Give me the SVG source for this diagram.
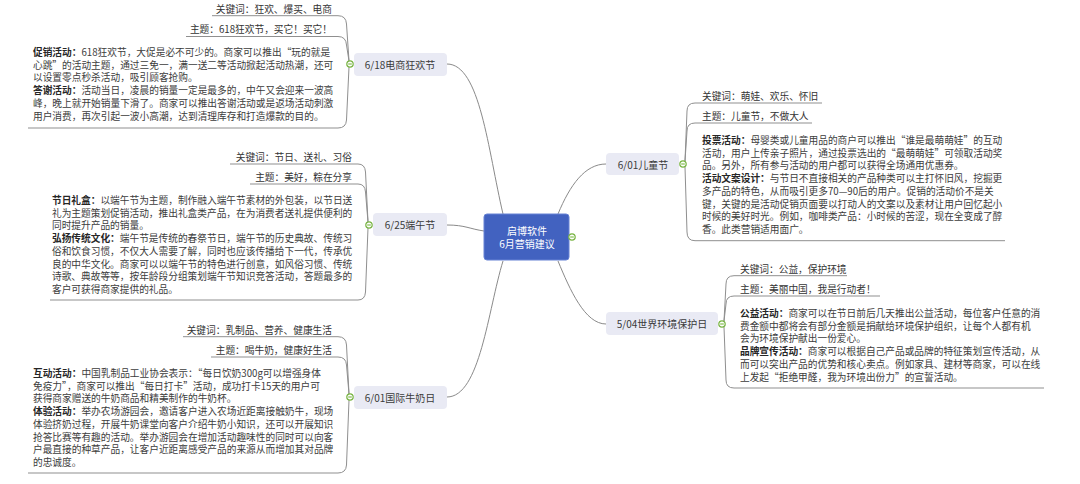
<svg xmlns="http://www.w3.org/2000/svg" width="1080" height="484" viewBox="0 0 1080 484">
<style>
text{font-family:"Noto Sans CJK SC","Noto Sans",sans-serif;dominant-baseline:central}
.t{font-size:9.7px;fill:#3c3c3c}
.b{font-weight:bold;fill:#262626}
.k{font-size:9.7px;fill:#333}
.end{text-anchor:end}
.lbl{font-size:10px;fill:#3a3a3a;text-anchor:middle}
.box{fill:#e9eaf4}
.ln{fill:none;stroke:#8f8f8f;stroke-width:1}
.cn{fill:none;stroke:#8a8a8a;stroke-width:1}
.tg{fill:#fff;stroke:#78b443;stroke-width:1.2}
.tl{stroke:#78b443;stroke-width:1.1}
</style>
<defs>
<g id="toggle"><circle class="tg" r="3.2"/><line class="tl" x1="-1.8" y1="0" x2="1.8" y2="0"/></g>
</defs>

<g id="connectors">
<path class="cn" d="M447,64 C480,64 488,150 503,214"/>
<path class="cn" d="M447,225 C465,225 470,229 484,231"/>
<path class="cn" d="M447,397 C480,397 488,310 503,261"/>
<path class="cn" d="M606,164 C585,164 570,185 558,214"/>
<path class="cn" d="M606,324 C585,324 570,290 558,261"/>
</g>

<g id="center">
<rect x="484" y="214" width="85" height="46" rx="3" fill="#4262c0" stroke="#6682d4" stroke-width="1"/>
<text x="527" y="230" style="font-size:10px;fill:#fff;text-anchor:middle">启博软件</text>
<text x="527" y="243" style="font-size:10px;fill:#fff;text-anchor:middle">6月营销建议</text>
<use href="#toggle" x="572" y="237"/>
</g>

<g id="node-618">
<rect class="box" x="354" y="53" width="93" height="23" rx="4"/>
<text class="lbl" x="400" y="64.5">6/18电商狂欢节</text>
<path class="ln" d="M212,15.7 H338 Q346,15.7 346.5,24 L349,61"/>
<path class="ln" d="M186,36.5 H338 Q346,36.5 346.5,45 L349,61"/>
<path class="ln" d="M28,128 H338 Q346,128 346.5,120 L349,67"/>
<text class="k end" x="332" y="9">关键词：狂欢、爆买、电商</text>
<text class="k end" x="332" y="29">主题：618狂欢节，买它！买它！</text>
<text class="t" x="33" y="52"><tspan class="b">促销活动：</tspan>618狂欢节，大促是必不可少的。商家可以推出“玩的就是</text>
<text class="t" x="33" y="64.7">心跳”的活动主题，通过三免一，满一送二等活动掀起活动热潮，还可</text>
<text class="t" x="33" y="77.4">以设置零点秒杀活动，吸引顾客抢购。</text>
<text class="t" x="33" y="90.1"><tspan class="b">答谢活动：</tspan>活动当日，凌晨的销量一定是最多的，中午又会迎来一波高</text>
<text class="t" x="33" y="102.8">峰，晚上就开始销量下滑了。商家可以推出答谢活动或是返场活动刺激</text>
<text class="t" x="33" y="115.5">用户消费，再次引起一波小高潮，达到清理库存和打造爆款的目的。</text>
<use href="#toggle" x="350" y="64"/>
</g>

<g id="node-625">
<rect class="box" x="373" y="213" width="74" height="23" rx="4"/>
<text class="lbl" x="410" y="224.5">6/25端午节</text>
<path class="ln" d="M230,164 H358 Q365,164 365.5,172 L368,222"/>
<path class="ln" d="M250,184 H358 Q365,184 365.5,192 L368,222"/>
<path class="ln" d="M50,300 H358 Q365,300 365.5,292 L368,228"/>
<text class="k end" x="352" y="157">关键词：节日、送礼、习俗</text>
<text class="k end" x="352" y="177">主题：美好，粽在分享</text>
<text class="t" x="52" y="200"><tspan class="b">节日礼盒：</tspan>以端午节为主题，制作融入端午节素材的外包装，以节日送</text>
<text class="t" x="52" y="212.7">礼为主题策划促销活动，推出礼盒类产品，在为消费者送礼提供便利的</text>
<text class="t" x="52" y="225.4">同时提升产品的销量。</text>
<text class="t" x="52" y="238.1"><tspan class="b">弘扬传统文化：</tspan>端午节是传统的春祭节日，端午节的历史典故、传统习</text>
<text class="t" x="52" y="250.8">俗和饮食习惯，不仅大人需要了解，同时也应该传播给下一代，传承优</text>
<text class="t" x="52" y="263.5">良的中华文化。商家可以以端午节的特色进行创意，如风俗习惯、传统</text>
<text class="t" x="52" y="276.2">诗歌、典故等等，按年龄段分组策划端午节知识竞答活动，答题最多的</text>
<text class="t" x="52" y="288.9">客户可获得商家提供的礼品。</text>
<use href="#toggle" x="369" y="225"/>
</g>

<g id="node-milk">
<rect class="box" x="354" y="386" width="93" height="23" rx="4"/>
<text class="lbl" x="400" y="397.5">6/01国际牛奶日</text>
<path class="ln" d="M183,336.7 H338 Q346,336.7 346.5,345 L349,394"/>
<path class="ln" d="M211,357 H338 Q346,357 346.5,365 L349,394"/>
<path class="ln" d="M28,473 H338 Q346,473 346.5,465 L349,400"/>
<text class="k end" x="332" y="330">关键词：乳制品、营养、健康生活</text>
<text class="k end" x="332" y="350">主题：喝牛奶，健康好生活</text>
<text class="t" x="33" y="373"><tspan class="b">互动活动：</tspan>中国乳制品工业协会表示：“每日饮奶300g可以增强身体</text>
<text class="t" x="33" y="385.7">免疫力”，商家可以推出“每日打卡”活动，成功打卡15天的用户可</text>
<text class="t" x="33" y="398.4">获得商家赠送的牛奶商品和精美制作的牛奶杯。</text>
<text class="t" x="33" y="411.1"><tspan class="b">体验活动：</tspan>举办农场游园会，邀请客户进入农场近距离接触奶牛，现场</text>
<text class="t" x="33" y="423.8">体验挤奶过程，开展牛奶课堂向客户介绍牛奶小知识，还可以开展知识</text>
<text class="t" x="33" y="436.5">抢答比赛等有趣的活动。举办游园会在增加活动趣味性的同时可以向客</text>
<text class="t" x="33" y="449.2">户最直接的种草产品，让客户近距离感受产品的来源从而增加其对品牌</text>
<text class="t" x="33" y="461.9">的忠诚度。</text>
<use href="#toggle" x="350" y="397"/>
</g>

<g id="node-children">
<rect class="box" x="606" y="153" width="73" height="22" rx="4"/>
<text class="lbl" x="643" y="164">6/01儿童节</text>
<path class="ln" d="M822,103 H695 Q687,103 687,111 L685,161"/>
<path class="ln" d="M812,123 H695 Q687,123 687,131 L685,161"/>
<path class="ln" d="M1005,240.7 H695 Q687,240.7 687,232 L685,167"/>
<text class="k" x="702" y="95.5">关键词：萌娃、欢乐、怀旧</text>
<text class="k" x="702" y="115.5">主题：儿童节，不做大人</text>
<text class="t" x="702" y="140"><tspan class="b">投票活动：</tspan>母婴类或儿童用品的商户可以推出“谁是最萌萌娃”的互动</text>
<text class="t" x="702" y="152.7">活动，用户上传亲子照片，通过投票选出的“最萌萌娃”可领取活动奖</text>
<text class="t" x="702" y="165.4">品。另外，所有参与活动的用户都可以获得全场通用优惠券。</text>
<text class="t" x="702" y="178.1"><tspan class="b">活动文案设计：</tspan>与节日不直接相关的产品种类可以主打怀旧风，挖掘更</text>
<text class="t" x="702" y="190.8">多产品的特色，从而吸引更多70—90后的用户。促销的活动价不是关</text>
<text class="t" x="702" y="203.5">键，关键的是活动促销页面要以打动人的文案以及素材让用户回忆起小</text>
<text class="t" x="702" y="216.2">时候的美好时光。例如，咖啡类产品：小时候的苦涩，现在全变成了醇</text>
<text class="t" x="702" y="228.9">香。此类营销适用面广。</text>
<use href="#toggle" x="683" y="164"/>
</g>

<g id="node-environment">
<rect class="box" x="606" y="312" width="112" height="23" rx="4"/>
<text class="lbl" x="662" y="323.5">5/04世界环境保护日</text>
<path class="ln" d="M847,275.7 H734 Q726,275.7 726,284 L724,321"/>
<path class="ln" d="M880,296 H734 Q726,296 726,304 L724,321"/>
<path class="ln" d="M1044,388 H734 Q726,388 726,380 L724,327"/>
<text class="k" x="740" y="268.5">关键词：公益，保护环境</text>
<text class="k" x="740" y="288.5">主题：美丽中国，我是行动者！</text>
<text class="t" x="740" y="313"><tspan class="b">公益活动：</tspan>商家可以在节日前后几天推出公益活动，每位客户任意的消</text>
<text class="t" x="740" y="325.7">费金额中都将会有部分金额是捐献给环境保护组织，让每个人都有机</text>
<text class="t" x="740" y="338.4">会为环境保护献出一份爱心。</text>
<text class="t" x="740" y="351.1"><tspan class="b">品牌宣传活动：</tspan>商家可以根据自己产品或品牌的特征策划宣传活动，从</text>
<text class="t" x="740" y="363.8">而可以突出产品的优势和核心卖点。例如家具、建材等商家，可以在线</text>
<text class="t" x="740" y="376.5">上发起“拒绝甲醛，我为环境出份力”的宣誓活动。</text>
<use href="#toggle" x="722" y="324"/>
</g>
</svg>
